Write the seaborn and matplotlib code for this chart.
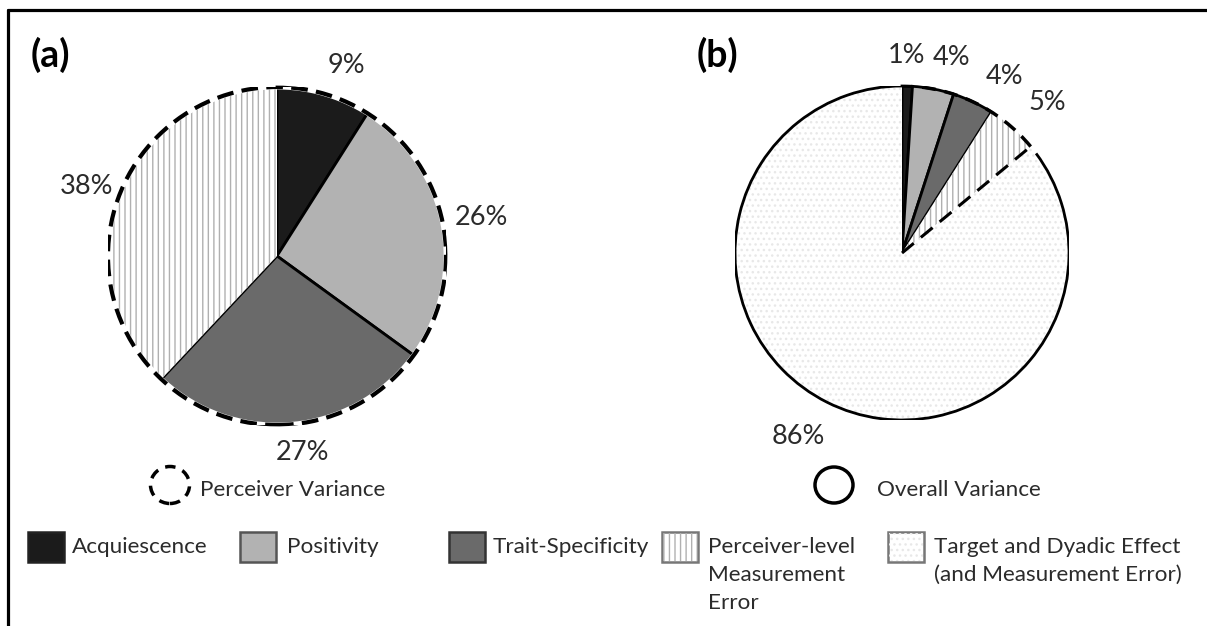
import matplotlib
matplotlib.use("Agg")
import numpy as np
import seaborn as sns
from matplotlib import pyplot as plt
from matplotlib import patches as mpatches
from matplotlib.lines import Line2D

# data
perceiver_labels = ["Acquiescence", "Positivity", "Trait-Specificity", "Perceiver-level Measurement Error"]
perceiver_pct = [9, 26, 27, 38]
overall_labels = ["Acquiescence", "Positivity", "Trait-Specificity", "Perceiver-level Measurement Error",
                  "Target and Dyadic Effect (and Measurement Error)"]
overall_pct = [1, 4, 4, 5, 86]
legend_labels = ["Acquiescence", "Positivity", "Trait-Specificity",
                 "Perceiver-level\nMeasurement\nError", "Target and Dyadic Effect\n(and Measurement Error)"]

sns.set_theme(style="white")
plt.rcParams['font.family'] = ['Lato', 'DejaVu Sans']
plt.rcParams['hatch.linewidth'] = 1.0

W, H = 1207, 626
fig = plt.figure(figsize=(W / 100, H / 100), dpi=100)


def fx(x):
    return x / W


def fy(y):
    return 1 - y / H


fills = ["#1b1b1b", "#b2b2b2", "#6a6a6a", "white", "white"]
hatches = [None, None, None, "|||", "..."]
hatch_cols = [None, None, None, "#b0b0b0", "#e8e8e8"]
txt_col = "#2b2b2b"


def style_wedges(wedges):
    for i, w in enumerate(wedges):
        w.set_facecolor(fills[i])
        if hatches[i]:
            w.set_hatch(hatches[i])
            w.set_edgecolor(hatch_cols[i])
            w.set_linewidth(0)
        else:
            w.set_edgecolor("black")
            w.set_linewidth(2)


def add_labels(ax, wedges, pcts, dists, shifts):
    for w, p, d, s in zip(wedges, pcts, dists, shifts):
        ang = np.deg2rad((w.theta1 + w.theta2) / 2 + s)
        ax.text(d * np.cos(ang), d * np.sin(ang), f"{p}%", ha="center", va="center",
                fontsize=19.5, color=txt_col)


# ---- panel (a)
cx, cy, r = 277, 256, 169
ax1 = fig.add_axes([fx(cx - r), fy(cy + r), 2 * r / W, 2 * r / H])
wa, _ = ax1.pie(perceiver_pct, startangle=90, counterclock=False, radius=1)
style_wedges(wa)
ax1.add_patch(mpatches.Circle((0, 0), 1, fill=False, ec="white", lw=3.5))
ax1.add_patch(mpatches.Circle((0, 0), 1, fill=False, ec="black", lw=3, ls=(0, (4, 2))))
add_labels(ax1, wa, perceiver_pct, [1.2, 1.23, 1.17, 1.2], [-3.8, 0, 1.9, 1.5])
ax1.set_xlim(-1, 1)
ax1.set_ylim(-1, 1)
ax1.set_aspect("equal")
ax1.axis("off")

# ---- panel (b)
cx, cy, r = 902, 253, 167
ax2 = fig.add_axes([fx(cx - r), fy(cy + r), 2 * r / W, 2 * r / H])
wb, _ = ax2.pie(overall_pct, startangle=90, counterclock=False, radius=1)
style_wedges(wb)
rest = wb[-1]
# solid outline of the whole variance, dashed around the perceiver share
ax2.add_patch(mpatches.Arc((0, 0), 2, 2, theta1=rest.theta1, theta2=rest.theta2 - 3,
                           color="black", lw=2))
ax2.add_patch(mpatches.Arc((0, 0), 2, 2, theta1=wb[3].theta1, theta2=wb[0].theta2,
                           color="black", lw=2.5, ls=(0, (4, 2.5))))
t = np.deg2rad(wb[3].theta1)
ax2.plot([0, np.cos(t)], [0, np.sin(t)], color="black", lw=2.2, ls=(0, (5, 3)))
add_labels(ax2, wb, overall_pct, [1.18, 1.21, 1.22, 1.25, 1.26], [0.4, -3.4, -5, -2.6, -4.2])
ax2.set_xlim(-1, 1)
ax2.set_ylim(-1, 1)
ax2.set_aspect("equal")
ax2.axis("off")

# panel letters
fig.text(fx(31), fy(55), "(a)", fontsize=27, fontweight="bold", va="center", ha="left", color="black")
fig.text(fx(697), fy(55), "(b)", fontsize=27, fontweight="bold", va="center", ha="left", color="black")

# variance keys
fig.add_artist(mpatches.Ellipse((fx(170), fy(485)), 39 / W, 37 / H, transform=fig.transFigure,
                                fill=False, ec="black", lw=2.5, ls=(0, (3, 2.2))))
fig.text(fx(200), fy(490), "Perceiver Variance", fontsize=16.2, va="center", color=txt_col)
fig.add_artist(mpatches.Ellipse((fx(834), fy(485)), 38 / W, 36 / H, transform=fig.transFigure,
                                fill=False, ec="black", lw=2.5))
fig.text(fx(877), fy(490), "Overall Variance", fontsize=16.2, va="center", color=txt_col)

# category legend
box_x = [28, 240, 449, 662, 888]
text_x = [72, 287, 493, 708, 934]
box_edges = ["#222222", "#555555", "#333333", "#777777", "#777777"]
for i, lab in enumerate(legend_labels):
    x0 = box_x[i]
    p = mpatches.Rectangle((fx(x0), fy(562)), 36 / W, 30 / H, transform=fig.transFigure,
                           facecolor=fills[i], edgecolor=box_edges[i], lw=1.8)
    fig.add_artist(p)
    if hatches[i]:
        # hatch drawn in light grey inside the frame
        hp = mpatches.Rectangle((fx(x0 + 1), fy(561)), 34 / W, 28 / H, transform=fig.transFigure,
                                facecolor="none", edgecolor=hatch_cols[i], lw=0, hatch=hatches[i])
        fig.add_artist(hp)
    fig.text(fx(text_x[i]), fy(537), lab, fontsize=16.2, va="top", ha="left", color=txt_col,
             linespacing=1.5)

# frame lines
fig.add_artist(Line2D([fx(8), 1], [fy(10), fy(10)], color="black", lw=2.3, transform=fig.transFigure))
fig.add_artist(Line2D([fx(8), fx(8)], [fy(10), 0], color="black", lw=2.3, transform=fig.transFigure))

fig.savefig("out.png", dpi=100, facecolor="white")
